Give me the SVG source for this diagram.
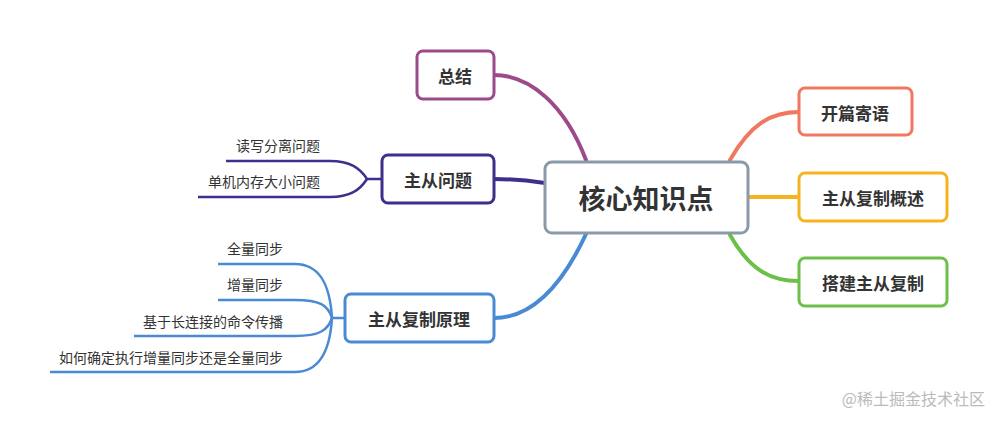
<svg xmlns="http://www.w3.org/2000/svg" width="998" height="424" viewBox="0 0 998 424">
<style>
.box{fill:#fff;stroke-width:3}
.t{font-family:"Noto Sans CJK SC",sans-serif;font-weight:bold;fill:#333;text-anchor:middle;dominant-baseline:central}
.s{font-family:"Noto Sans CJK SC",sans-serif;font-size:14px;fill:#333;text-anchor:end}
.c{fill:none;stroke-linecap:round}
</style>
<rect width="998" height="424" fill="#fff"/>
<g id="connectors">
<path class="c" d="M730,160 C750,125 770,112 799,112" stroke="#f07860" stroke-width="4"/>
<path class="c" d="M748,197 L799,197" stroke="#f5b320" stroke-width="4"/>
<path class="c" d="M730,235 C750,270 770,281 799,281" stroke="#6cc04a" stroke-width="4"/>
<path class="c" d="M586,160 C565,105 530,75 494,75" stroke="#9b4a8c" stroke-width="4"/>
<path class="c" d="M545,183 C525,180 510,179 494,179" stroke="#3d2f8c" stroke-width="4"/>
<path class="c" d="M586,234 C560,290 530,318 494,318" stroke="#4a8ad4" stroke-width="4"/>
<g stroke="#3d2f8c" stroke-width="2.5" fill="none">
<path d="M381,179 L367,179 C360,168 350,161 330,161 L226,161"/>
<path d="M367,179 C360,190 350,197 330,197 L198,197"/>
</g>
<g stroke="#4a8ad4" stroke-width="2.5" fill="none">
<path d="M345,318 L332,318 C330,285 320,264 295,264 L218,264"/>
<path d="M332,318 C328,305 320,300 295,300 L218,300"/>
<path d="M332,318 C328,330 320,336 295,336 L134,336"/>
<path d="M332,318 C330,350 320,372 295,372 L50,372"/>
</g>
</g>
<g id="core"><rect class="box" x="545" y="162" width="203" height="71" rx="7" stroke="#8a9aa8"/><text class="t" x="646" y="197" font-size="27">核心知识点</text></g>
<g id="n1"><rect class="box" x="799" y="88" width="113" height="47" rx="6" stroke="#f07860"/><text class="t" x="855" y="112" font-size="17">开篇寄语</text></g>
<g id="n2"><rect class="box" x="799" y="173" width="148" height="48" rx="6" stroke="#f5b320"/><text class="t" x="873" y="197" font-size="17">主从复制概述</text></g>
<g id="n3"><rect class="box" x="799" y="258" width="148" height="48" rx="6" stroke="#6cc04a"/><text class="t" x="873" y="282" font-size="17">搭建主从复制</text></g>
<g id="n4"><rect class="box" x="417" y="51" width="77" height="48" rx="6" stroke="#9b4a8c"/><text class="t" x="455" y="75" font-size="17">总结</text></g>
<g id="n5"><rect class="box" x="382" y="155" width="112" height="48" rx="6" stroke="#3d2f8c"/><text class="t" x="438" y="179" font-size="17">主从问题</text></g>
<g id="n6"><rect class="box" x="345" y="294" width="149" height="48" rx="6" stroke="#4a8ad4"/><text class="t" x="419" y="318" font-size="17">主从复制原理</text></g>
<g id="leaves">
<text class="s" x="320" y="151">读写分离问题</text>
<text class="s" x="320" y="187">单机内存大小问题</text>
<text class="s" x="283" y="254">全量同步</text>
<text class="s" x="283" y="290">增量同步</text>
<text class="s" x="283" y="327">基于长连接的命令传播</text>
<text class="s" x="283" y="363">如何确定执行增量同步还是全量同步</text>
</g>
<text x="985" y="405" font-family="Noto Sans CJK SC,sans-serif" font-size="16" fill="#bbb" text-anchor="end">@稀土掘金技术社区</text>
</svg>
